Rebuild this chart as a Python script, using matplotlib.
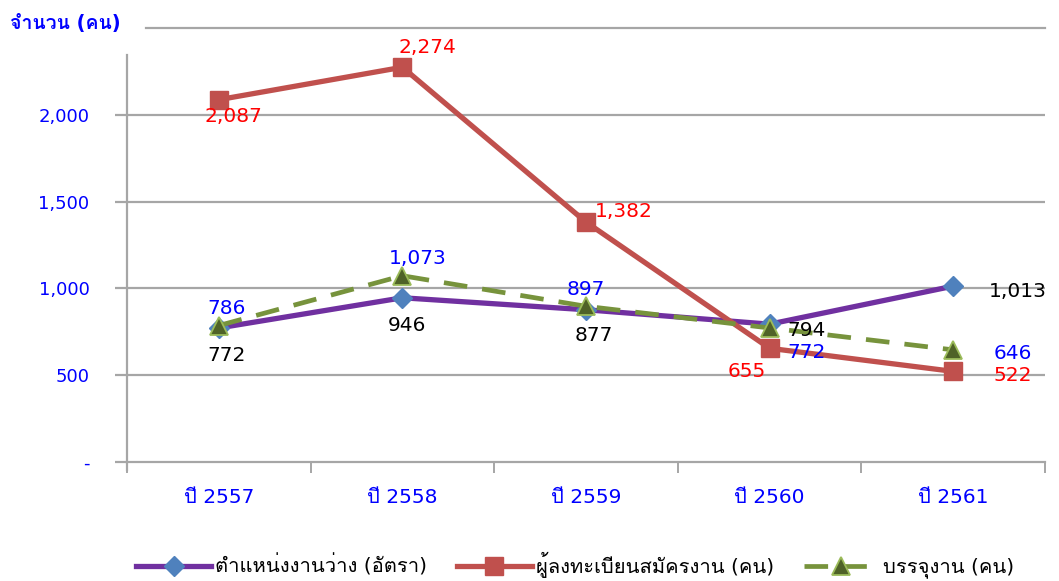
import matplotlib
matplotlib.use('Agg')
import matplotlib.pyplot as plt
import matplotlib.ticker as ticker
import numpy as np

plt.rcParams['font.family'] = ['DejaVu Sans', 'Loma']

years = ['ปี 2557', 'ปี 2558', 'ปี 2559', 'ปี 2560', 'ปี 2561']
vacancies = [772, 946, 877, 794, 1013]
applicants = [2087, 2274, 1382, 655, 522]
placed = [786, 1073, 897, 772, 646]
series_names = ['ตำแหน่งงานว่าง (อัตรา)', 'ผู้ลงทะเบียนสมัครงาน (คน)', 'บรรจุงาน (คน)']
y_title = 'จำนวน (คน)'

# label offsets in pixels (dx, dy), dy positive = up
vac_off = [(8, -28), (5, -28), (8, -26), (37, -6), (65, -5)]
app_off = [(15, -17), (25, 20), (38, 11), (-23, -23), (60, -4)]
pla_off = [(8, 17), (15, 17), (0, 17), (37, -25), (60, -4)]

fig = plt.figure(figsize=(10.59, 5.81), dpi=100)
ax = fig.add_axes([127 / 1059, 1 - 462 / 581, 918 / 1059, 434 / 581])

x = np.arange(len(years))
grid_c = '#a6a6a6'

for v in [500, 1000, 1500, 2000]:
    ax.axhline(v, color=grid_c, lw=1.6, zorder=1)
ax.axhline(2500, xmin=19 / 918, color=grid_c, lw=1.6, zorder=1, clip_on=False)

l1, = ax.plot(x, vacancies, color='#7030a0', lw=3.8, marker='D', ms=10.5,
              mfc='#4f81bd', mec='#4f81bd', zorder=3)
l2, = ax.plot(x, applicants, color='#c0504d', lw=3.8, marker='s', ms=13,
              mfc='#c0504d', mec='#c0504d', zorder=4)
l3, = ax.plot(x, placed, color='#77933c', lw=3.4, ls=(0, (5, 3.2)), marker='^', ms=13,
              mfc='#4f6228', mec='#9bbb59', mew=1.3, zorder=5)

def put_labels(vals, offs, color):
    for xi, v, (dx, dy) in zip(x, vals, offs):
        ax.annotate(f'{v:,}', (xi, v), xytext=(dx, dy), textcoords='offset pixels',
                    ha='center', va='center', fontsize=14.5, color=color, zorder=6)

put_labels(vacancies, vac_off, 'black')
put_labels(applicants, app_off, '#ff0000')
put_labels(placed, pla_off, '#0000ff')

ax.set_xlim(-0.5, 4.5)
ax.set_ylim(0, 2500)
ax.set_yticks([0, 500, 1000, 1500, 2000])
ax.yaxis.set_major_formatter(ticker.FuncFormatter(lambda v, p: '-' if v == 0 else f'{int(v):,}'))
ax.set_xticks(x)
ax.set_xticklabels(years)
ax.xaxis.set_minor_locator(ticker.FixedLocator(np.arange(-0.5, 5, 1)))
ax.tick_params(axis='x', which='major', length=0, pad=19, labelsize=14.5, labelcolor='#0000ff')
ax.tick_params(axis='x', which='minor', length=8, width=1.4, color=grid_c, direction='out')
ax.tick_params(axis='y', length=9, width=1.6, color=grid_c, pad=18, labelsize=13,
               labelcolor='#0000ff')

for s in ['top', 'right']:
    ax.spines[s].set_visible(False)
ax.spines['bottom'].set_color(grid_c)
ax.spines['bottom'].set_linewidth(1.6)
ax.spines['left'].set_color(grid_c)
ax.spines['left'].set_linewidth(1.6)
ax.spines['left'].set_bounds(-46, 2345)

fig.text(10 / 1059, 1 - 24 / 581, y_title, color='#0000ff', fontsize=14,
         fontweight='bold', va='center', ha='left')

fig.legend([l1, l2, l3], series_names, loc='center', bbox_to_anchor=(575 / 1059, 1 - 565 / 581),
           ncol=3, frameon=False, fontsize=14.5, handlelength=3.7, columnspacing=1.5,
           handletextpad=0.2)

fig.savefig('out.png', dpi=100)
